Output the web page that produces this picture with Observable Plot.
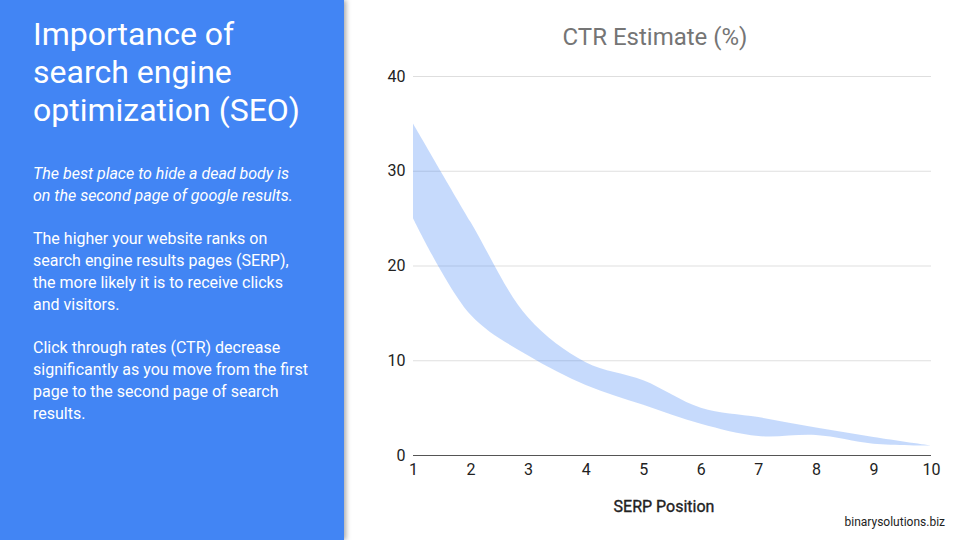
<!DOCTYPE html>
<html>
<head>
<meta charset="utf-8">
<script src="https://cdn.jsdelivr.net/npm/d3@7"></script>
<script src="https://cdn.jsdelivr.net/npm/@observablehq/plot@0.6"></script>
<style>
  html, body { margin: 0; padding: 0; width: 960px; height: 540px; overflow: hidden; background: #fff; font-family: Roboto, "Noto Sans", sans-serif; }
  #panel { position: absolute; left: 0; top: 0; width: 344px; height: 540px; background: #4285f4; color: #fff; box-shadow: 2px 0 5px rgba(0,0,0,0.35); }
  #panel h1 { position: absolute; left: 33px; top: 15px; margin: 0; font-weight: 400; font-size: 32px; line-height: 38px; }
  #panel .p { position: absolute; left: 33px; margin: 0; font-size: 16px; line-height: 22px; font-weight: 400; }
  #title { position: absolute; left: 345px; width: 620px; top: 23px; text-align: center; font-size: 24px; color: #757575; }
  #chart { position: absolute; left: 345px; top: 60px; }
  #xlabel { position: absolute; left: 397px; width: 534px; top: 497px; text-align: center; font-size: 16px; color: #222; font-weight: 400; -webkit-text-stroke: 0.35px #222; }
  #footer { position: absolute; right: 15px; top: 515px; font-size: 12px; color: #222; }
</style>
</head>
<body>
<div id="panel">
  <h1>Importance of<br>search engine<br>optimization (SEO)</h1>
  <p class="p" style="top:163px; font-style: italic;">The best place to hide a dead body is<br>on the second page of google results.</p>
  <p class="p" style="top:228px;">The higher your website ranks on<br>search engine results pages (SERP),<br>the more likely it is to receive clicks<br>and visitors.</p>
  <p class="p" style="top:337px;">Click through rates (CTR) decrease<br>significantly as you move from the first<br>page to the second page of search<br>results.</p>
</div>
<div id="title">CTR Estimate (%)</div>
<div id="chart"></div>
<div id="xlabel">SERP Position</div>
<div id="footer">binarysolutions.biz</div>
<script>
const positions = [1, 2, 3, 4, 5, 6, 7, 8, 9, 10];
const ctrHigh = [35, 24.6, 14.5, 9.8, 7.9, 5.0, 4.0, 2.9, 1.9, 1.0];
const ctrLow  = [25, 14.8, 10.5, 7.4, 5.3, 3.3, 2.0, 2.1, 1.2, 1.0];
const yTicks = [0, 10, 20, 30, 40];

const data = positions.map((p, i) => ({pos: p, high: ctrHigh[i], low: ctrLow[i]}));

const plot = Plot.plot({
  width: 615,
  height: 480,
  marginLeft: 68,
  marginRight: 29,
  marginTop: 16,
  marginBottom: 85,
  style: {fontFamily: "Roboto, 'Noto Sans', sans-serif", fontSize: "16px", color: "#222", background: "transparent"},
  x: {domain: [1, 10], ticks: positions, tickSize: 0, tickPadding: 9, label: null, tickFormat: d => String(d)},
  y: {domain: [0, 40], ticks: yTicks, tickSize: 0, tickPadding: 8, label: null, grid: false},
  marks: [
    Plot.gridY(yTicks.filter(d => d !== 0), {stroke: "#000", strokeOpacity: 0.13}),
    Plot.areaY(data, {x: "pos", y1: "low", y2: "high", fill: "#4285f4", fillOpacity: 0.3, curve: "catmull-rom"}),
    Plot.ruleY([0], {stroke: "#555", strokeWidth: 1}),
    Plot.axisX({ticks: positions, tickSize: 0, tickPadding: 8, fill: "#222", label: null}),
    Plot.axisY({ticks: yTicks, tickSize: 0, tickPadding: 8, fill: "#222", label: null})
  ]
});
document.getElementById("chart").appendChild(plot);
</script>
</body>
</html>
